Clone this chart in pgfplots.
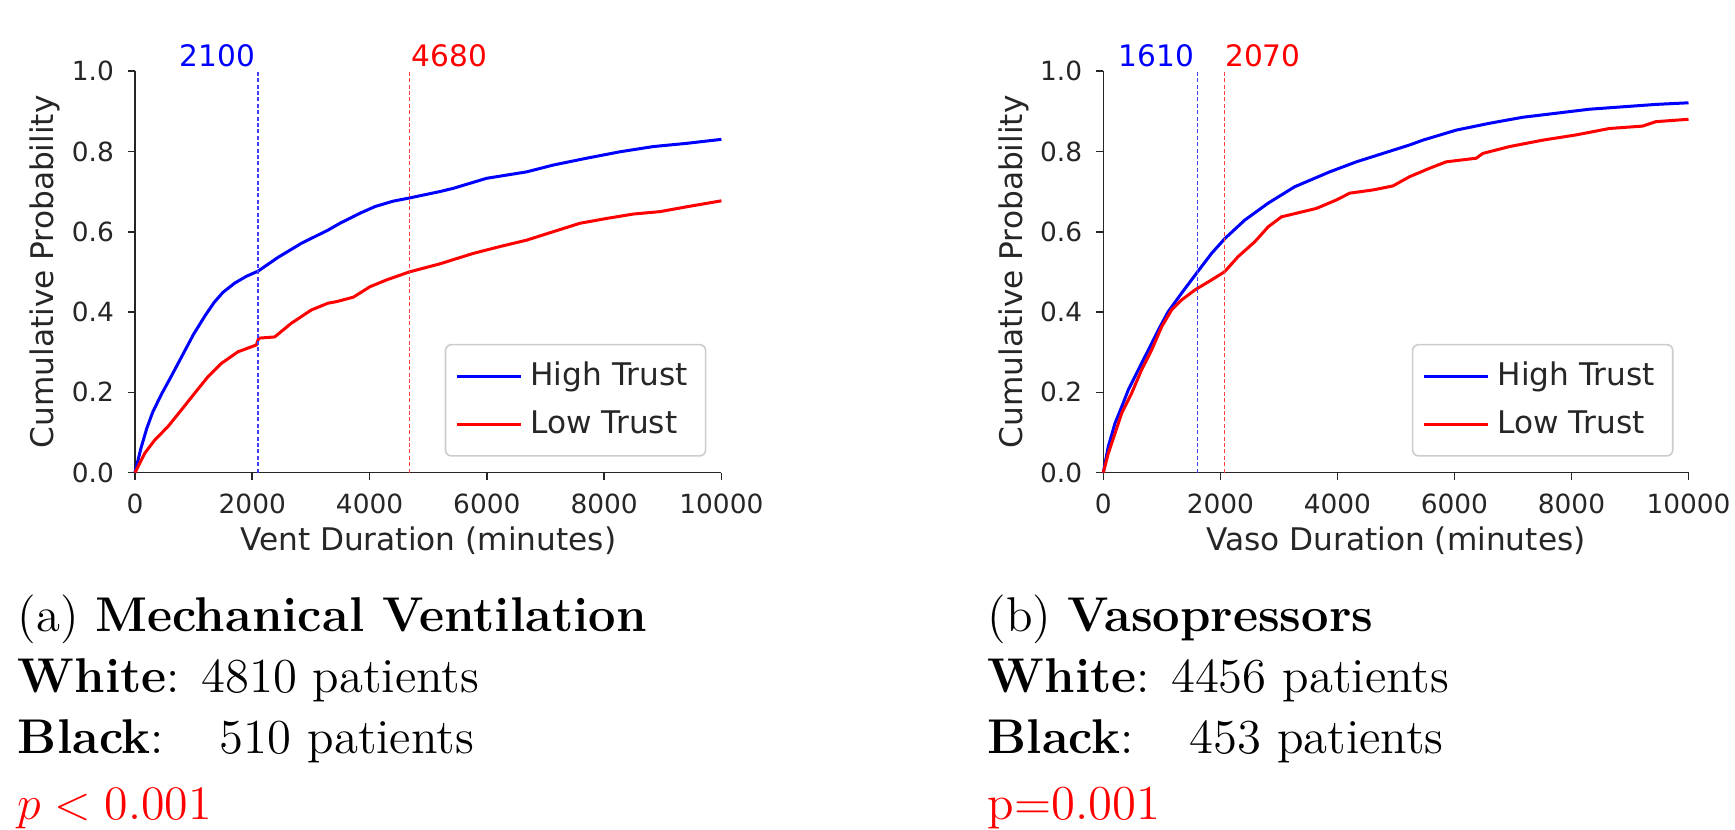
\documentclass[border=0pt]{standalone}
\usepackage{fontspec}
\usepackage{pgfplots}
\usepackage{pgfplotstable}
\pgfplotsset{compat=1.18}
\newfontfamily\dv{DejaVu Sans}

\pgfplotstableread{
x y
0 0
100 0.060
200 0.110
300 0.150
450 0.195
600 0.235
800 0.290
1000 0.345
1200 0.392
1350 0.424
1500 0.449
1700 0.472
1900 0.489
2100 0.502
2438 0.536
2836 0.571
3291 0.604
3495 0.621
3836 0.646
4100 0.663
4400 0.676
4680 0.684
5200 0.700
5427 0.708
5996 0.733
6678 0.749
7132 0.766
7701 0.783
8269 0.799
8837 0.812
9406 0.820
10000 0.830
}\venthigh
\pgfplotstableread{
x y
0 0
165 0.048
335 0.081
563 0.115
790 0.156
1018 0.198
1245 0.239
1472 0.272
1756 0.301
2069 0.318
2110 0.335
2382 0.338
2665 0.372
3006 0.405
3291 0.422
3439 0.426
3723 0.437
4007 0.463
4291 0.480
4680 0.500
5200 0.520
5768 0.546
6223 0.563
6678 0.579
7132 0.600
7587 0.621
8042 0.633
8496 0.644
8951 0.650
9406 0.662
10000 0.677
}\ventlow
\pgfplotstableread{
x y
0 0
85 0.065
200 0.123
314 0.164
427 0.206
597 0.256
768 0.305
939 0.355
1109 0.401
1338 0.447
1610 0.500
1850 0.546
2077 0.583
2418 0.629
2816 0.671
3271 0.712
3868 0.749
4324 0.774
4779 0.795
5234 0.816
5461 0.828
6031 0.853
6599 0.870
7168 0.885
7737 0.895
8306 0.905
8874 0.911
9443 0.917
10000 0.921
}\vasohigh
\pgfplotstableread{
x y
0 0
85 0.048
200 0.098
314 0.148
484 0.198
654 0.256
825 0.305
996 0.363
1166 0.405
1338 0.430
1565 0.455
1850 0.480
2070 0.500
2304 0.538
2589 0.575
2816 0.612
3044 0.637
3299 0.646
3641 0.658
3982 0.679
4210 0.696
4608 0.704
4949 0.714
5234 0.737
5575 0.758
5860 0.774
6372 0.783
6486 0.795
6941 0.812
7509 0.828
8078 0.841
8647 0.857
9216 0.863
9443 0.874
10000 0.880
}\vasolow

\pgfplotsset{
  cdf/.style={
    scale only axis, height=100.4pt,
    xmin=0, xmax=10000, ymin=0, ymax=1,
    scaled x ticks=false, scaled y ticks=false,
    axis lines*=left,
    axis line style={black!85, line width=0.4pt},
    tick align=outside, major tick length=1.75pt,
    tick style={black!85, line width=0.4pt},
    xtick={0,2000,4000,6000,8000,10000},
    xticklabels={0,2000,4000,6000,8000,10000},
    ytick={0,0.2,0.4,0.6,0.8,1},
    yticklabels={0.0,0.2,0.4,0.6,0.8,1.0},
    tick label style={font=\dv\fontsize{6.6}{7}\selectfont, text=black!85},
    label style={font=\dv\fontsize{7.8}{9}\selectfont, text=black!85},
    ylabel={Cumulative Probability},
    xlabel style={at={(axis description cs:0.5,-0.1325)}, anchor=north, inner sep=0pt},
    ylabel style={at={(axis description cs:-0.153,0.5)}, anchor=center, inner sep=0pt},
    clip=false,
    legend cell align=left,
    legend image code/.code={\draw[#1, line width=0.75pt] (0pt,0pt) -- (16pt,0pt);},
    legend style={at={(0.9745,0.0398)}, anchor=south east,
      draw=black!20, rounded corners=1.5pt, fill=white,
      font=\dv\fontsize{7.8}{9}\selectfont, text=black!85,
      inner xsep=2.5pt, inner ysep=2.2pt, row sep=0.8pt},
  },
  med/.style={#1!75, line width=0.35pt, dash pattern=on 1pt off 0.6pt, forget plot},
  curve/.style={#1, line width=0.75pt},
}

\begin{document}
\begin{tikzpicture}
\useasboundingbox (0,0) rectangle (433.75pt,207.5pt);

\begin{axis}[cdf, at={(33.75pt,89.325pt)}, anchor=south west, width=146.6pt,
  xlabel={Vent Duration (minutes)}]
\addplot[curve=blue] table {\venthigh};
\addlegendentry{High Trust}
\addplot[curve=red] table {\ventlow};
\addlegendentry{Low Trust}
\addplot[med=blue] coordinates {(2100,0) (2100,1)};
\addplot[med=red] coordinates {(4680,0) (4680,1)};
\node[anchor=base east, inner sep=0pt, text=blue, font=\dv\fontsize{7.4}{9}\selectfont, xshift=-0.6pt] at (axis cs:2100,1.0125) {2100};
\node[anchor=base west, inner sep=0pt, text=red, font=\dv\fontsize{7.4}{9}\selectfont, xshift=0.4pt] at (axis cs:4680,1.0125) {4680};
\end{axis}

\begin{axis}[cdf, at={(275.825pt,89.325pt)}, anchor=south west, width=146.3pt,
  xlabel={Vaso Duration (minutes)}]
\addplot[curve=blue] table {\vasohigh};
\addlegendentry{High Trust}
\addplot[curve=red] table {\vasolow};
\addlegendentry{Low Trust}
\addplot[med=blue] coordinates {(1610,0) (1610,1)};
\addplot[med=red] coordinates {(2070,0) (2070,1)};
\node[anchor=base east, inner sep=0pt, text=blue, font=\dv\fontsize{7.4}{9}\selectfont, xshift=-0.6pt] at (axis cs:1610,1.0125) {1610};
\node[anchor=base west, inner sep=0pt, text=red, font=\dv\fontsize{7.4}{9}\selectfont] at (axis cs:2070,1.0125) {2070};
\end{axis}

\begin{scope}[every node/.style={anchor=base west, inner sep=0pt, font=\fontsize{12.2}{14}\selectfont}]
\node at (4.3pt,49.5pt) {(a) \textbf{Mechanical Ventilation}};
\node at (4.3pt,34.25pt) {\textbf{White}: 4810 patients};
\node at (4.3pt,19pt) {\rlap{\textbf{Black}:}\phantom{\textbf{White}:} \phantom{4}510 patients};
\node[text=red] at (4.3pt,2.5pt) {$p < 0.001$};
\node at (246.75pt,49.5pt) {(b) \textbf{Vasopressors}};
\node at (246.75pt,34.25pt) {\textbf{White}: 4456 patients};
\node at (246.75pt,19pt) {\rlap{\textbf{Black}:}\phantom{\textbf{White}:} \phantom{4}453 patients};
\node[text=red] at (246.75pt,2.5pt) {p=0.001};
\end{scope}
\end{tikzpicture}
\end{document}
